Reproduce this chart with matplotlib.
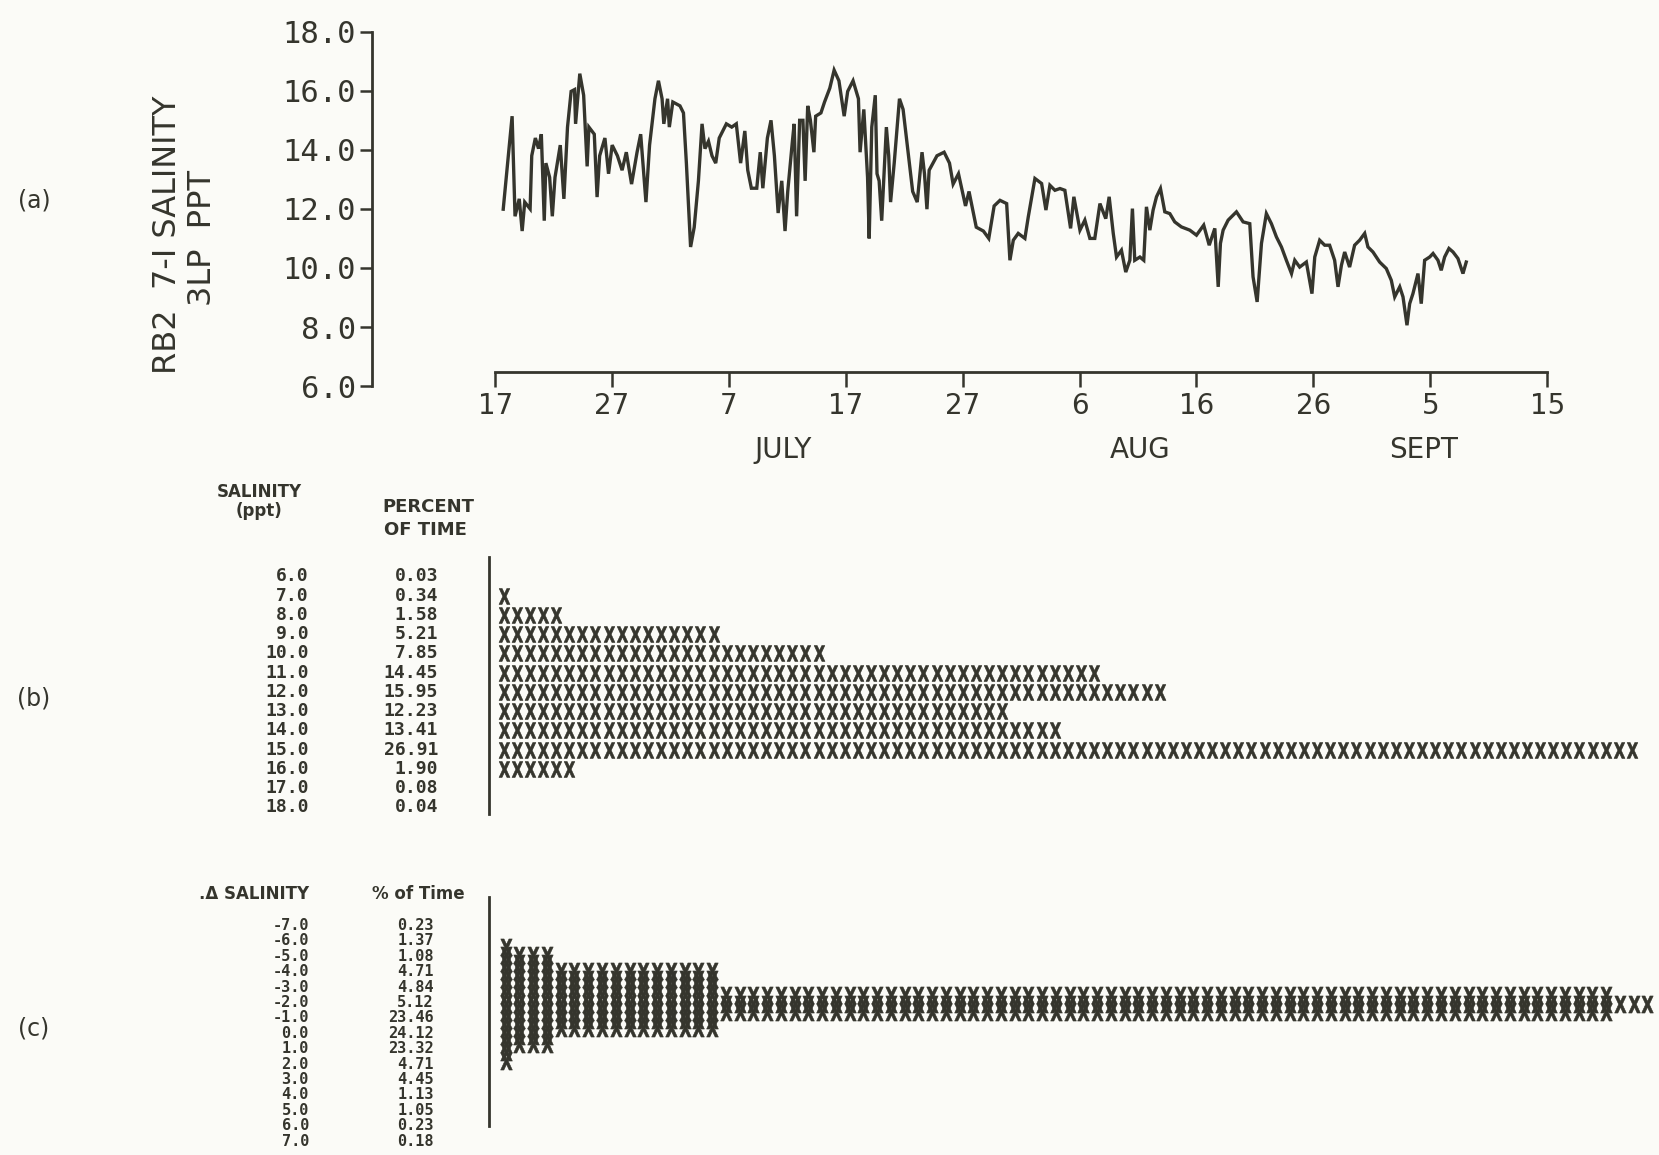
import matplotlib
matplotlib.use("Agg")
import matplotlib.pyplot as plt
from matplotlib.transforms import blended_transform_factory as blend, Affine2D
from matplotlib.textpath import TextPath
from matplotlib.font_manager import FontProperties

INK = "#35352d"

# (a) salinity record, days after June 17
day = [0.69, 1.45, 1.70, 2.06, 2.31, 2.53, 2.99, 3.13, 3.44, 3.71, 3.95, 4.20, 4.34, 4.66,
       4.89, 5.12, 5.57, 5.88, 6.19, 6.50, 6.79, 6.88, 7.24, 7.57, 7.87, 8.02, 8.48, 8.72,
       8.94, 9.39, 9.70, 10.01, 10.46, 10.86, 11.22, 11.67, 12.14, 12.45, 12.90, 13.21,
       13.67, 13.97, 14.28, 14.43, 14.75, 14.90, 15.20, 15.81, 16.11, 16.36, 16.72, 17.03,
       17.39, 17.70, 17.95, 18.25, 18.55, 18.87, 19.17, 19.78, 20.24, 20.63, 21.00, 21.36,
       21.61, 21.92, 22.38, 22.68, 22.90, 23.29, 23.60, 23.89, 24.21, 24.52, 24.80, 25.03,
       25.43, 25.58, 25.79, 26.05, 26.33, 26.52, 26.74, 26.97, 27.27, 27.42, 27.87, 28.18,
       28.63, 29.00, 29.41, 29.86, 30.16, 30.62, 31.08, 31.22, 31.54, 31.86, 32.00, 32.22,
       32.52, 32.67, 32.85, 33.07, 33.47, 33.67, 33.83, 34.14, 34.59, 34.90, 35.29, 35.72,
       36.11, 36.52, 36.73, 36.94, 37.13, 37.80, 38.41, 38.87, 39.18, 39.64, 40.24, 40.54,
       41.16, 41.77, 42.23, 42.69, 43.19, 43.76, 44.04, 44.33, 44.75, 45.32, 45.61, 46.18,
       46.75, 47.12, 47.46, 47.89, 48.32, 48.74, 49.23, 49.51, 50.03, 50.45, 50.88, 51.30,
       51.74, 52.24, 52.53, 52.88, 53.16, 53.58, 53.95, 54.30, 54.52, 54.72, 55.16, 55.49,
       55.72, 56.01, 56.29, 56.58, 56.92, 57.29, 57.72, 58.14, 58.71, 59.43, 60.00, 60.62,
       61.09, 61.57, 61.86, 62.05, 62.28, 62.71, 63.42, 63.99, 64.56, 64.84, 65.19, 65.56,
       65.98, 66.41, 66.84, 67.27, 67.69, 68.13, 68.41, 68.83, 69.40, 69.88, 70.12, 70.54,
       70.97, 71.39, 71.82, 72.11, 72.40, 72.68, 73.10, 73.53, 73.96, 74.39, 74.67, 75.10,
       75.67, 76.24, 76.67, 76.96, 77.39, 77.67, 78.01, 78.24, 78.52, 78.95, 79.23, 79.52,
       79.95, 80.24, 80.66, 80.94, 81.23, 81.60, 81.95, 82.37, 82.80, 83.08]
sal = [11.99, 15.14, 11.75, 12.34, 11.25, 12.23, 12.00, 13.80, 14.40, 14.04, 14.53, 11.60,
       13.55, 13.07, 11.75, 13.07, 14.16, 12.34, 14.77, 15.98, 16.04, 14.88, 16.58, 15.85,
       13.44, 14.77, 14.53, 12.40, 13.80, 14.40, 13.19, 14.16, 13.80, 13.31, 13.92, 12.84,
       13.92, 14.53, 12.23, 14.16, 15.73, 16.34, 15.73, 14.88, 15.73, 14.77, 15.62, 15.49,
       15.25, 13.55, 10.71, 11.38, 12.95, 14.88, 14.04, 14.29, 13.80, 13.55, 14.40, 14.88,
       14.77, 14.88, 13.55, 14.64, 13.31, 12.70, 12.70, 13.92, 12.70, 14.40, 15.00, 13.80,
       11.86, 12.95, 11.25, 12.59, 14.29, 14.88, 11.75, 15.00, 15.00, 12.95, 15.49, 15.00,
       13.92, 15.14, 15.25, 15.62, 16.09, 16.70, 16.34, 15.14, 15.98, 16.34, 15.73, 13.92,
       15.37, 13.07, 11.00, 14.77, 15.85, 13.19, 12.95, 11.60, 14.77, 13.80, 12.23, 13.55,
       15.73, 15.37, 14.04, 12.59, 12.23, 13.92, 13.19, 11.99, 13.31, 13.80, 13.92, 13.55,
       12.84, 13.19, 12.10, 12.59, 11.38, 11.25, 11.00, 12.10, 12.29, 12.18, 10.26, 10.94,
       11.17, 11.00, 11.73, 13.03, 12.86, 11.96, 12.80, 12.63, 12.69, 12.63, 11.34, 12.41,
       11.28, 11.62, 11.00, 11.00, 12.18, 11.67, 12.41, 11.17, 10.37, 10.60, 9.86, 10.26,
       12.01, 10.26, 10.37, 10.26, 12.07, 11.28, 11.96, 12.41, 12.69, 11.90, 11.84, 11.56,
       11.39, 11.28, 11.11, 11.45, 10.77, 11.34, 9.36, 10.83, 11.28, 11.62, 11.90, 11.56,
       11.50, 9.70, 8.85, 10.83, 11.84, 11.50, 11.05, 10.71, 10.26, 9.81, 10.26, 10.03,
       10.20, 9.13, 10.37, 10.94, 10.77, 10.77, 10.26, 9.36, 10.09, 10.54, 10.03, 10.77,
       10.94, 11.17, 10.71, 10.54, 10.20, 9.98, 9.58, 9.02, 9.36, 9.02, 8.06, 8.79,
       9.13, 9.81, 8.79, 10.26, 10.37, 10.49, 10.26, 9.92, 10.37, 10.66, 10.54, 10.32,
       9.81, 10.20]

date_ticks = [0, 10, 20, 30, 40, 50, 60, 70, 80, 90]
date_labels = ["17", "27", "7", "17", "27", "6", "16", "26", "5", "15"]
month_names = ["JULY", "AUG", "SEPT"]
month_days = [24.6, 55.2, 79.4]
sal_ticks = [6, 8, 10, 12, 14, 16, 18]

# (b) salinity distribution
sal_class = ["6.0", "7.0", "8.0", "9.0", "10.0", "11.0", "12.0", "13.0", "14.0",
             "15.0", "16.0", "17.0", "18.0"]
pct_b = ["0.03", "0.34", "1.58", "5.21", "7.85", "14.45", "15.95", "12.23", "13.41",
         "26.91", "1.90", "0.08", "0.04"]
n_b = [0, 1, 5, 17, 25, 46, 51, 39, 43, 87, 6, 0, 0]

# (c) salinity change distribution
dsal_class = ["-7.0", "-6.0", "-5.0", "-4.0", "-3.0", "-2.0", "-1.0", "0.0", "1.0",
              "2.0", "3.0", "4.0", "5.0", "6.0", "7.0"]
pct_c = ["0.23", "1.37", "1.08", "4.71", "4.84", "5.12", "23.46", "24.12", "23.32",
         "4.71", "4.45", "1.13", "1.05", "0.23", "0.18"]
n_c = [1, 4, 4, 16, 16, 16, 81, 84, 81, 16, 16, 4, 4, 1, 1]

W, H = 1568.0, 1092.0


def fx(x):
    return x / W


def fy(y):
    return 1 - y / H


# narrow printer-style X used as the histogram mark
xp = TextPath((0, 0), "X", size=1, prop=FontProperties(family="DejaVu Sans", weight="bold"))
ext = xp.get_extents()
xmark = xp.transformed(Affine2D().translate(-(ext.x0 + ext.x1) / 2,
                                            -(ext.y0 + ext.y1) / 2).scale(0.68, 1.0))

fig = plt.figure(figsize=(16.59, 11.55), dpi=100, facecolor="#fbfbf7")

# ---------------- (a)
ax = fig.add_axes([fx(352), fy(365), fx(1470) - fx(352), fy(30) - fy(365)])
ax.patch.set_alpha(0)
ax.plot(day, sal, color=INK, lw=2.4, solid_joinstyle="miter")
ax.set_xlim(-10.5, 90.7)
ax.set_ylim(6, 18)
for s in ["top", "right"]:
    ax.spines[s].set_visible(False)
ax.spines["left"].set_bounds(6, 18)
ax.spines["bottom"].set_position(("data", 6.46))
ax.spines["bottom"].set_bounds(0, 90)
for s in ["left", "bottom"]:
    ax.spines[s].set_color(INK)
    ax.spines[s].set_linewidth(2)
ax.set_yticks(sal_ticks, labels=["%.1f" % v for v in sal_ticks],
              family="DejaVu Sans Mono", fontsize=22, color=INK)
ax.set_xticks(date_ticks, labels=date_labels, fontsize=20, color=INK)
ax.tick_params(axis="y", direction="out", length=9, width=1.8, pad=3, colors=INK)
ax.tick_params(axis="x", direction="out", length=11, width=1.8, pad=3, colors=INK)
for name, d in zip(month_names, month_days):
    ax.text(d, 3.85, name, ha="center", va="center", fontsize=20, color=INK, clip_on=False)

fig.text(fx(158), fy(222), "RB2  7-I SALINITY", rotation=90, ha="center", va="center",
         fontsize=23, color=INK)
fig.text(fx(191), fy(225), "3LP  PPT", rotation=90, ha="center", va="center",
         fontsize=23, color=INK)
fig.text(fx(32), fy(190), "(a)", ha="center", va="center", fontsize=17, color=INK)

# ---------------- (b)
axb = fig.add_axes([fx(462), fy(770), fx(1568) - fx(462), fy(527) - fy(770)])
axb.patch.set_alpha(0)
axb.set_xlim(-0.13, 89.06)
axb.set_ylim(12.36, -0.99)
for s in ["top", "right", "bottom"]:
    axb.spines[s].set_visible(False)
axb.spines["left"].set_color(INK)
axb.spines["left"].set_linewidth(2)
axb.set_xticks([])
axb.set_yticks([])
for i, n in enumerate(n_b):
    if n:
        axb.scatter(range(1, n + 1), [i] * n, marker=xmark, s=130,
                    color=INK, linewidths=0.45, clip_on=False)
tb = blend(fig.transFigure, axb.transData)
for i, (c, p) in enumerate(zip(sal_class, pct_b)):
    axb.text(fx(292), i, c, transform=tb, ha="right", va="center", fontsize=13,
             family="DejaVu Sans Mono", weight="bold", color=INK)
    axb.text(fx(414), i, p, transform=tb, ha="right", va="center", fontsize=13,
             family="DejaVu Sans Mono", weight="bold", color=INK)
fig.text(fx(245), fy(465), "SALINITY", ha="center", va="center", fontsize=12,
         weight="bold", color=INK)
fig.text(fx(245), fy(483), "(ppt)", ha="center", va="center", fontsize=12,
         weight="bold", color=INK)
fig.text(fx(405), fy(479), "PERCENT", ha="center", va="center", fontsize=13,
         weight="bold", color=INK)
fig.text(fx(402), fy(501), "OF TIME", ha="center", va="center", fontsize=13,
         weight="bold", color=INK)
fig.text(fx(32), fy(660), "(b)", ha="center", va="center", fontsize=17, color=INK)

# ---------------- (c)
axc = fig.add_axes([fx(462), fy(1065), fx(1568) - fx(462), fy(848) - fy(1065)])
axc.patch.set_alpha(0)
axc.set_xlim(-0.23, 84.85)
axc.set_ylim(22.08, -6.1)
for s in ["top", "right", "bottom"]:
    axc.spines[s].set_visible(False)
axc.spines["left"].set_color(INK)
axc.spines["left"].set_linewidth(2)
axc.set_xticks([])
axc.set_yticks([])
for i, n in enumerate(n_c):
    axc.scatter(range(1, n + 1), [i] * n, marker=xmark, s=150,
                color=INK, linewidths=0.45, clip_on=False)

axl = fig.add_axes([0, fy(1092), 1, fy(862) - fy(1092)])
axl.axis("off")
axl.set_xlim(0, 1)
axl.set_ylim(len(dsal_class) - 0.1, -0.9)
for i, (c, p) in enumerate(zip(dsal_class, pct_c)):
    axl.text(fx(292), i, c, ha="right", va="center", fontsize=11,
             family="DejaVu Sans Mono", weight="bold", color=INK)
    axl.text(fx(410), i, p, ha="right", va="center", fontsize=11,
             family="DejaVu Sans Mono", weight="bold", color=INK)
fig.text(fx(240), fy(845), ".\u0394 SALINITY", ha="center", va="center", fontsize=12,
         weight="bold", color=INK)
fig.text(fx(395), fy(845), "% of Time", ha="center", va="center", fontsize=12,
         weight="bold", color=INK)
fig.text(fx(32), fy(972), "(c)", ha="center", va="center", fontsize=17, color=INK)

fig.savefig("out.png", dpi=100, facecolor=fig.get_facecolor())
